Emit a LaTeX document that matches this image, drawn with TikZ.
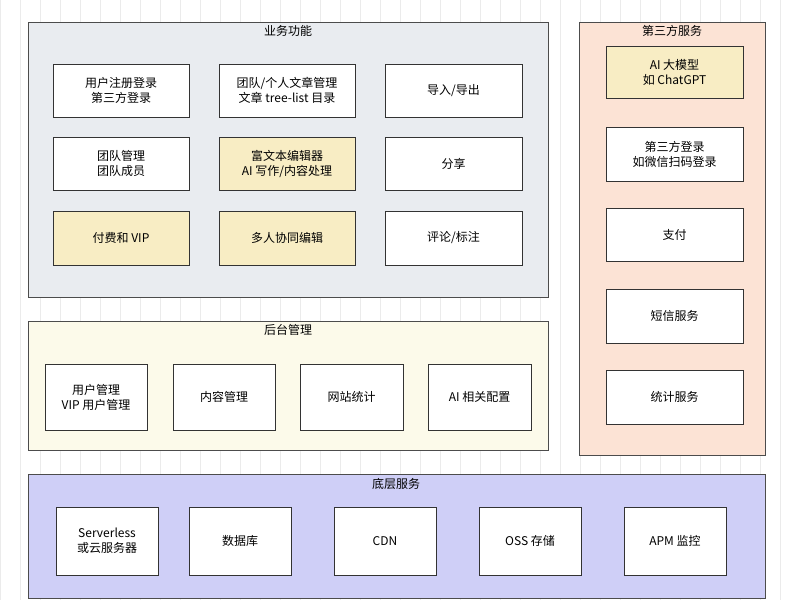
\documentclass[tikz,border=0pt]{standalone}
\usepackage{fontspec}
\setmainfont{Noto Sans CJK SC}
\begin{document}
\begin{tikzpicture}[x=1pt,y=-1pt,
  panel/.style={draw=black!70,line width=0.9pt},
  bx/.style={draw=black!80,line width=0.8pt,fill=white,align=center,font=\fontsize{12}{15}\selectfont},
  yb/.style={bx,fill=yellowbox},
  ttl/.style={font=\fontsize{12}{14}\selectfont}]
\definecolor{yellowbox}{HTML}{F8EDC4}
\definecolor{greyp}{HTML}{E9ECF0}
\definecolor{peachp}{HTML}{FCE3D5}
\definecolor{yelp}{HTML}{FCFAEA}
\definecolor{lavp}{HTML}{CFCFF7}
\useasboundingbox (0,0) rectangle (800,600);
\fill[white] (0,0) rectangle (800,600);
\draw[black!8,step=20] (0,0) grid (800,600);
% panels
\draw[panel,fill=greyp] (28,22) rectangle (548,297);
\node[ttl] (t1) at (288,31) {业务功能};
\draw[panel,fill=peachp] (579,22) rectangle (765,455);
\node[ttl] (t2) at (672,31) {第三方服务};
\draw[panel,fill=yelp] (28,321) rectangle (548,450);
\node[ttl] (t3) at (288,330) {后台管理};
\draw[panel,fill=lavp] (28,474) rectangle (765,598);
\node[ttl] (t4) at (396,484) {底层服务};
\newcommand{\B}[7]{\node[#1,minimum width=#4-#2,minimum height=#5-#3] (#6) at ({(#2+#4)/2},{(#3+#5)/2}) {#7};}
\B{bx}{53}{64}{189}{117}{a1}{用户注册登录\\第三方登录}
\B{bx}{219}{64}{355}{117}{a2}{团队/个人文章管理\\文章 tree-list 目录}
\B{bx}{385}{64}{522}{117}{a3}{导入/导出}
\B{bx}{53}{137}{189}{190}{b1}{团队管理\\团队成员}
\B{yb}{219}{137}{355}{190}{b2}{富文本编辑器\\AI 写作/内容处理}
\B{bx}{385}{137}{522}{190}{b3}{分享}
\B{yb}{53}{211}{189}{265}{c1}{付费和 VIP}
\B{yb}{219}{211}{355}{265}{c2}{多人协同编辑}
\B{bx}{385}{211}{522}{265}{c3}{评论/标注}
\B{yb}{606}{46}{743}{98}{d1}{AI 大模型\\如 ChatGPT}
\B{bx}{606}{127}{743}{181}{d2}{第三方登录\\如微信扫码登录}
\B{bx}{606}{208}{743}{261}{d3}{支付}
\B{bx}{606}{289}{743}{343}{d4}{短信服务}
\B{bx}{606}{370}{743}{424}{d5}{统计服务}
\B{bx}{45}{364}{147}{430}{e1}{用户管理\\VIP 用户管理}
\B{bx}{173}{364}{275}{430}{e2}{内容管理}
\B{bx}{300}{364}{403}{430}{e3}{网站统计}
\B{bx}{428}{364}{531}{430}{e4}{AI 相关配置}
\B{bx}{56}{507}{158}{575}{f1}{Serverless\\或云服务器}
\B{bx}{189}{507}{291}{575}{f2}{数据库}
\B{bx}{334}{507}{436}{575}{f3}{CDN}
\B{bx}{479}{507}{581}{575}{f4}{OSS 存储}
\B{bx}{624}{507}{726}{575}{f5}{APM 监控}
\end{tikzpicture}
\end{document}
